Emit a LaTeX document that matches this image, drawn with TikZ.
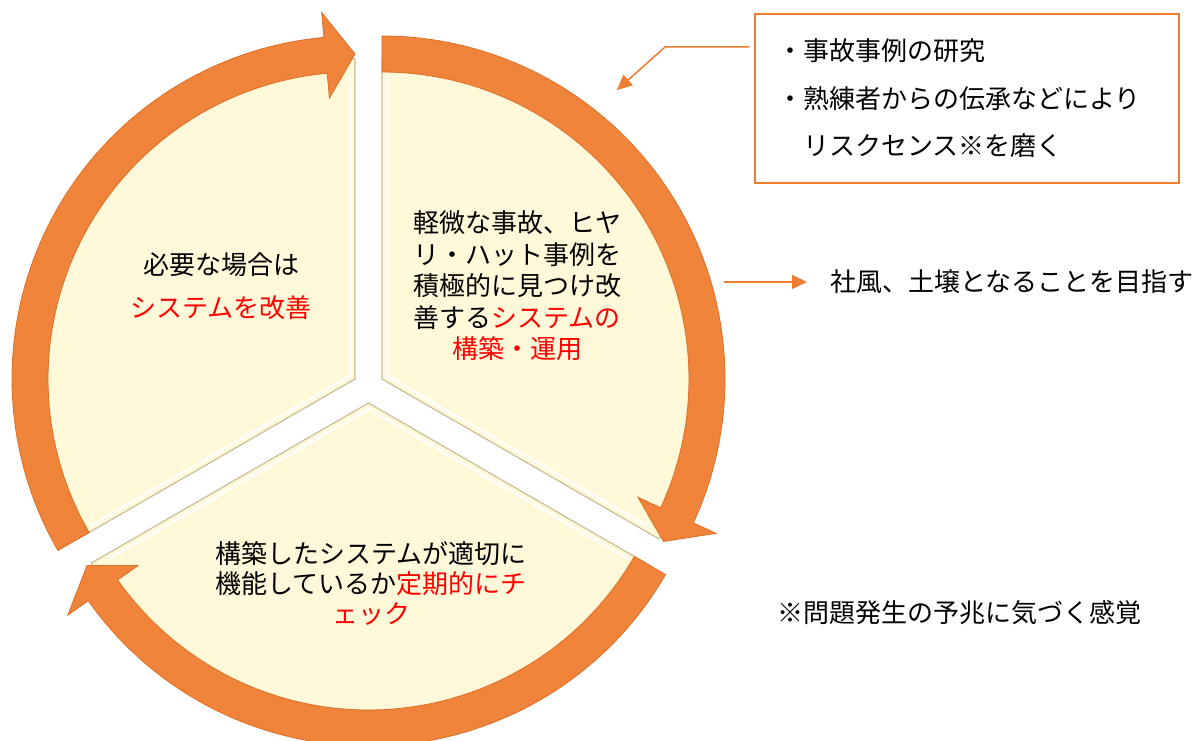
\documentclass[tikz,border=0pt]{standalone}
\usepackage{fontspec}
\setmainfont{Noto Sans CJK JP}
\usetikzlibrary{arrows.meta,calc}
\definecolor{ringorange}{HTML}{F0843A}
\definecolor{ringedge}{HTML}{DC7027}
\definecolor{cream}{HTML}{FFF9D9}
\definecolor{creamedge}{HTML}{C9BE98}
\definecolor{linkorange}{HTML}{ED7D31}
\definecolor{alertred}{HTML}{FF0000}
\tikzset{
  sector/.style={fill=cream, draw=creamedge, line width=1.2pt, line join=round},
  bevel/.style={draw=white, line width=3pt, opacity=0.75, line join=round},
  band/.style={fill=ringorange, draw=ringedge, line width=0.8pt, line join=miter},
  txt/.style={inner sep=0pt, text=black, font=\fontsize{26}{31.5}\selectfont},
  link/.style={draw=linkorange, line width=1.5pt, -{Triangle[length=15pt,width=14pt]}}
}
\begin{document}
\begin{tikzpicture}[x=1pt,y=1pt]
\useasboundingbox (0,0) rectangle (1203,740);
\fill[white] (0,0) rectangle (1203,740);
% sector apexes
\coordinate (A1) at (355,361);
\coordinate (A2) at (382,361);
\coordinate (A3) at (368.5,337);
% sectors
\filldraw[sector] (A1) -- ++(90:320) arc[start angle=90, end angle=210, radius=320] -- cycle;
\filldraw[sector] (A2) -- ++(90:320) arc[start angle=90, end angle=-30, radius=320] -- cycle;
\filldraw[sector] (A3) -- ++(210:320) arc[start angle=210, end angle=330, radius=320] -- cycle;
% bevel highlights
\draw[bevel] ($(A1)+(150:6)$) ++(90:300) -- ($(A1)+(150:6)$) -- ++(210:300);
\draw[bevel] ($(A2)+(30:6)$) ++(90:300) -- ($(A2)+(30:6)$) -- ++(-30:300);
\draw[bevel] ($(A3)+(270:6)$) ++(210:300) -- ($(A3)+(270:6)$) -- ++(330:300);
% ring arrows
\begin{scope}[shift={(A1)}]
  \filldraw[band] (210:343) arc[start angle=210, end angle=95.2, radius=343] -- (95.2:368) -- (90:325) -- (95.2:282) -- (95.2:307) arc[start angle=95.2, end angle=210, radius=307] -- cycle;
\end{scope}
\begin{scope}[shift={(A2)}]
  \filldraw[band] (90:343) arc[start angle=90, end angle=-24.8, radius=343] -- (-24.8:368) -- (-30:325) -- (-24.8:282) -- (-24.8:307) arc[start angle=-24.8, end angle=90, radius=307] -- cycle;
\end{scope}
\begin{scope}[shift={(A3)}]
  \filldraw[band] (330:343) arc[start angle=330, end angle=215.2, radius=343] -- (215.2:368) -- (210:325) -- (215.2:282) -- (215.2:307) arc[start angle=215.2, end angle=330, radius=307] -- cycle;
\end{scope}
% sector texts
\node[txt, align=center, font=\fontsize{26}{43}\selectfont] (t1) at (221,453.5)
  {必要な場合は\\\textcolor{alertred}{システムを改善}};
\node[txt, align=center] (t2) at (517,454)
  {軽微な事故、ヒヤ\\リ・ハット事例を\\積極的に見つけ改\\善する\textcolor{alertred}{システムの}\\\textcolor{alertred}{構築・運用}};
\node[txt, align=center, font=\fontsize{26}{30}\selectfont] (t3) at (371,157)
  {構築したシステムが適切に\\機能しているか\textcolor{alertred}{定期的にチ}\\\textcolor{alertred}{ェック}};
% note box
\node[draw=linkorange, line width=1.5pt, minimum width=424pt, minimum height=169pt,
      text width=380pt, inner xsep=22pt, inner ysep=0pt, align=left,
      font=\fontsize{26}{47.5}\selectfont] (box) at (967,641.5)
  {・事故事例の研究\\・熟練者からの伝承などにより\\\phantom{・}リスクセンス※を磨く};
\coordinate (k2) at (665,693);
\coordinate (k3) at (617,650);
\draw[link, shorten <=5pt] (box.west |- k2) -- (k2) -- (k3);
% goal text
\node[txt, anchor=west] (goal) at (830,458) {社風、土壌となることを目指す};
\coordinate (k4) at (724,458);
\draw[link, shorten >=23pt] (k4) -- (goal.west);
% footnote
\node[txt, anchor=west] (note) at (777,127) {※問題発生の予兆に気づく感覚};
\end{tikzpicture}
\end{document}
